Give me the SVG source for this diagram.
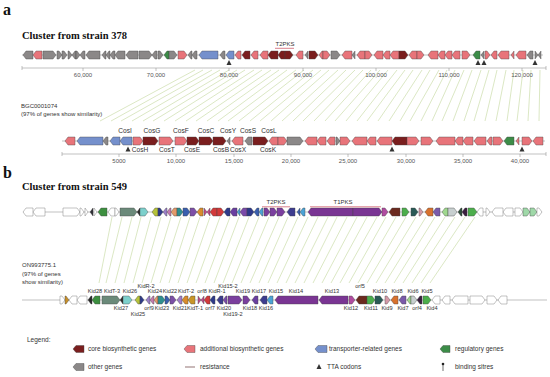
<svg xmlns="http://www.w3.org/2000/svg" width="550" height="377" viewBox="0 0 550 377">
<style>
text{font-family:"Liberation Sans",Arial,sans-serif;fill:#333}
.ttl{font-family:"Liberation Serif","Times New Roman",serif;font-weight:bold;fill:#111}
.pl{font-family:"Liberation Serif","Times New Roman",serif;font-weight:bold;font-size:16px;fill:#111}
.tk{font-size:6px;fill:#555;text-anchor:middle}
.gl{font-size:6.6px;text-anchor:middle}
.kl{font-size:5.6px;text-anchor:middle}
.sm{font-size:6px}
.lg{font-size:6.5px}
.genes path{stroke:#444;stroke-width:0.4}
.c{fill:#7a1e1e}.a{fill:#e8747a}.t{fill:#7590cc}.g{fill:#3c8c48}.o{fill:#8b8888}
.w{fill:#fff;stroke:#666!important}
.bb{stroke:#999;stroke-width:0.6;fill:none}
.rul{stroke:#999;stroke-width:0.6;fill:none}
.links line{stroke:#c3d69c;stroke-width:0.6}
.tta{fill:#333}
.pk{stroke:#d0606e;stroke-width:0.8}
</style>
<rect width="550" height="377" fill="#fff"/>

<!-- connectors -->
<g id="connectors" class="links">
<line x1="195" y1="70" x2="100" y2="121"/><line x1="203" y1="70" x2="111" y2="121"/><line x1="212" y1="70" x2="121" y2="121"/><line x1="220" y1="70" x2="132" y2="121"/><line x1="229" y1="70" x2="143" y2="121"/><line x1="237" y1="70" x2="153" y2="121"/><line x1="245" y1="70" x2="164" y2="121"/><line x1="254" y1="70" x2="175" y2="121"/><line x1="262" y1="70" x2="186" y2="121"/><line x1="271" y1="70" x2="196" y2="121"/><line x1="279" y1="70" x2="207" y2="121"/><line x1="287" y1="70" x2="218" y2="121"/><line x1="296" y1="70" x2="228" y2="121"/><line x1="304" y1="70" x2="239" y2="121"/><line x1="313" y1="70" x2="250" y2="121"/><line x1="321" y1="70" x2="260" y2="121"/><line x1="329" y1="70" x2="271" y2="121"/><line x1="338" y1="70" x2="282" y2="121"/><line x1="346" y1="70" x2="293" y2="121"/><line x1="355" y1="70" x2="303" y2="121"/><line x1="363" y1="70" x2="314" y2="121"/><line x1="371" y1="70" x2="325" y2="121"/><line x1="380" y1="70" x2="335" y2="121"/><line x1="388" y1="70" x2="346" y2="121"/><line x1="397" y1="70" x2="357" y2="121"/><line x1="405" y1="70" x2="367" y2="121"/><line x1="413" y1="70" x2="378" y2="121"/><line x1="422" y1="70" x2="389" y2="121"/><line x1="430" y1="70" x2="400" y2="121"/><line x1="439" y1="70" x2="410" y2="121"/><line x1="447" y1="70" x2="421" y2="121"/><line x1="455" y1="70" x2="432" y2="121"/><line x1="464" y1="70" x2="442" y2="121"/><line x1="472" y1="70" x2="453" y2="121"/><line x1="481" y1="70" x2="464" y2="121"/><line x1="489" y1="70" x2="474" y2="121"/><line x1="497" y1="70" x2="485" y2="121"/><line x1="506" y1="70" x2="496" y2="121"/><line x1="514" y1="70" x2="507" y2="121"/><line x1="523" y1="70" x2="517" y2="121"/><line x1="531" y1="70" x2="528" y2="121"/><line x1="540" y1="70" x2="539" y2="121"/>
<line x1="112" y1="217" x2="99" y2="283"/><line x1="122" y1="217" x2="106" y2="283"/><line x1="132" y1="217" x2="115" y2="283"/><line x1="141" y1="217" x2="124" y2="283"/><line x1="151" y1="217" x2="133" y2="283"/><line x1="161" y1="217" x2="142" y2="283"/><line x1="171" y1="217" x2="151" y2="283"/><line x1="181" y1="217" x2="160" y2="283"/><line x1="190" y1="217" x2="169" y2="283"/><line x1="200" y1="217" x2="178" y2="283"/><line x1="210" y1="217" x2="187" y2="283"/><line x1="220" y1="217" x2="196" y2="283"/><line x1="230" y1="217" x2="205" y2="283"/><line x1="239" y1="217" x2="214" y2="283"/><line x1="249" y1="217" x2="223" y2="283"/><line x1="259" y1="217" x2="232" y2="283"/><line x1="269" y1="217" x2="241" y2="283"/><line x1="279" y1="217" x2="250" y2="283"/><line x1="288" y1="217" x2="259" y2="283"/><line x1="298" y1="217" x2="268" y2="283"/><line x1="308" y1="217" x2="277" y2="283"/><line x1="318" y1="217" x2="286" y2="283"/><line x1="328" y1="217" x2="295" y2="283"/><line x1="337" y1="217" x2="304" y2="283"/><line x1="347" y1="217" x2="313" y2="283"/><line x1="357" y1="217" x2="322" y2="283"/><line x1="367" y1="217" x2="331" y2="283"/><line x1="377" y1="217" x2="340" y2="283"/><line x1="386" y1="217" x2="349" y2="283"/><line x1="396" y1="217" x2="358" y2="283"/><line x1="406" y1="217" x2="367" y2="283"/><line x1="416" y1="217" x2="376" y2="283"/><line x1="426" y1="217" x2="385" y2="283"/><line x1="435" y1="217" x2="394" y2="283"/><line x1="445" y1="217" x2="403" y2="283"/><line x1="455" y1="217" x2="412" y2="283"/><line x1="465" y1="217" x2="421" y2="283"/><line x1="475" y1="217" x2="430" y2="283"/>
</g>

<!-- panel a -->
<text class="pl" x="3" y="15">a</text>
<text class="ttl" x="22" y="39" font-size="10.5">Cluster from strain 378</text>

<g id="track-a-top">
<line class="bb" x1="22" y1="55" x2="543" y2="55"/>
<g class="genes">
<path class="o" d="M33,51h-7l-3,4l3,4h7z"/><path class="a" d="M42,51h-6l-3,4l3,4h6z"/><path class="o" d="M43,51h10l3,4l-3,4h-10z"/><path class="o" d="M57,51h2l3,4l-3,4h-2z"/><path class="o" d="M62,51h2l3,4l-3,4h-2z"/><path class="o" d="M68,51h1l3,4l-3,4h-1z"/><path class="o" d="M76,51h-1l-3,4l3,4h1z"/><path class="o" d="M76,51h1l3,4l-3,4h-1z"/><path class="o" d="M85,51h-2l-3,4l3,4h2z"/><path class="o" d="M100,51h-11l-3,4l3,4h11z"/><path class="o" d="M106,51h-1l-3,4l3,4h1z"/><path class="o" d="M110,51h-1l-3,4l3,4h1z"/><path class="o" d="M115,51h-2l-3,4l3,4h2z"/><path class="o" d="M125,51h-7l-3,4l3,4h7z"/><path class="o" d="M138,51h-9l-3,4l3,4h9z"/><path class="o" d="M139,51h10l3,4l-3,4h-10z"/><path class="o" d="M157,51h-2l-3,4l3,4h2z"/><path class="o" d="M158,51h2l3,4l-3,4h-2z"/><path class="g" d="M169,51h-2l-3,4l3,4h2z"/><path class="o" d="M169,51h5l3,4l-3,4h-5z"/><path class="a" d="M178,51h6l3,4l-3,4h-6z"/><path class="o" d="M192,51h-1l-3,4l3,4h1z"/><path class="o" d="M197,51h-2l-3,4l3,4h2z"/><path class="t" d="M218,51h-16l-3,4l3,4h16z"/><path class="o" d="M225,51h-2l-3,4l3,4h2z"/><path class="t" d="M234,51h-5l-3,4l3,4h5z"/><path class="a" d="M241,51h-3l-3,4l3,4h3z"/><path class="c" d="M250,51h-5l-3,4l3,4h5z"/><path class="a" d="M258,51h-4l-3,4l3,4h4z"/><path class="a" d="M268,51h-5l-3,4l3,4h5z"/><path class="c" d="M278,51h-7l-3,4l3,4h7z"/><path class="c" d="M285,51h-4l-3,4l3,4h4z"/><path class="c" d="M285,51h5l3,4l-3,4h-5z"/><path class="a" d="M303,51h-4l-3,4l3,4h4z"/><path class="o" d="M308,51l-3,4l3,4z"/><path class="c" d="M309,51h6l3,4l-3,4h-6z"/><path class="a" d="M323,51h-1l-3,4l3,4h1z"/><path class="a" d="M323,51h4l3,4l-3,4h-4z"/><path class="o" d="M331,51h6l3,4l-3,4h-6z"/><path class="a" d="M352,51h-7l-3,4l3,4h7z"/><path class="o" d="M355,51l-3,4l3,4z"/><path class="a" d="M365,51h-5l-3,4l3,4h5z"/><path class="a" d="M365,51h4l3,4l-3,4h-4z"/><path class="a" d="M383,51h-6l-3,4l3,4h6z"/><path class="a" d="M390,51h-4l-3,4l3,4h4z"/><path class="a" d="M399,51h-6l-3,4l3,4h6z"/><path class="c" d="M399,51h6l3,4l-3,4h-6z"/><path class="a" d="M417,51h-5l-3,4l3,4h5z"/><path class="a" d="M417,51h4l3,4l-3,4h-4z"/><path class="a" d="M438,51h-7l-3,4l3,4h7z"/><path class="a" d="M445,51h-4l-3,4l3,4h4z"/><path class="a" d="M452,51h-4l-3,4l3,4h4z"/><path class="a" d="M460,51h-5l-3,4l3,4h5z"/><path class="a" d="M462,51h5l3,4l-3,4h-5z"/><path class="g" d="M480,51h-4l-3,4l3,4h4z"/><path class="o" d="M484,51l-3,4l3,4z"/><path class="a" d="M485,51h2l3,4l-3,4h-2z"/><path class="a" d="M497,51h-3l-3,4l3,4h3z"/><path class="a" d="M509,51h-8l-3,4l3,4h8z"/><path class="a" d="M514,51l-3,4l3,4z"/><path class="a" d="M526,51h-7l-3,4l3,4h7z"/><path class="o" d="M533,51h-3l-3,4l3,4h3z"/><path class="o" d="M535,51l3,4l-3,4z"/><path class="o" d="M541,51l-3,4l3,4z"/>
</g>
<text x="285" y="45.5" font-size="6" text-anchor="middle">T2PKS</text>
<line class="pk" x1="275" y1="48.3" x2="294" y2="48.3"/>
<g class="tta"><path d="M229,60l2.5,5h-5z"/><path d="M478,60l2.5,5h-5z"/><path d="M484,60l2.5,5h-5z"/><path d="M535,60l2.5,5h-5z"/></g>
<g class="rul">
<line x1="22" y1="68" x2="546" y2="68"/>
<path d="M22,66v4M83,68v3M156,68v3M229,68v3M303,68v3M376,68v3M449,68v3M522,68v3M546,66v4"/>
</g>
<text class="tk" x="83" y="76.5">60,000</text><text class="tk" x="156" y="76.5">70,000</text><text class="tk" x="229" y="76.5">80,000</text><text class="tk" x="303" y="76.5">90,000</text><text class="tk" x="376" y="76.5">100,000</text><text class="tk" x="449" y="76.5">110,000</text><text class="tk" x="522" y="76.5">120,000</text>
</g>

<g id="ref-a-label">
<text class="sm" x="21" y="108">BGC0001074</text>
<text class="sm" x="21" y="116">(97% of genes show similarity)</text>
</g>

<g id="track-a-bottom">
<line class="bb" x1="62" y1="141" x2="545" y2="141"/>
<g class="genes">
<path class="a" d="M75,137h-7l-3,4l3,4h7z"/><path class="t" d="M103,137h-23l-3,4l3,4h23z"/><path class="o" d="M108,137h-2l-3,4l3,4h2z"/><path class="t" d="M120,137h-7l-3,4l3,4h7z"/><path class="t" d="M132,137h-9l-3,4l3,4h9z"/><path class="a" d="M133,137h7l3,4l-3,4h-7z"/><path class="c" d="M143,137h12l3,4l-3,4h-12z"/><path class="a" d="M159,137h11l3,4l-3,4h-11z"/><path class="a" d="M175,137h9l3,4l-3,4h-9z"/><path class="c" d="M187,137h9l3,4l-3,4h-9z"/><path class="c" d="M199,137h11l3,4l-3,4h-11z"/><path class="c" d="M213,137h10l3,4l-3,4h-10z"/><path class="o" d="M230,137h0l-3,4l3,4z"/><path class="a" d="M243,137h-8l-3,4l3,4h8z"/><path class="o" d="M252,137h-4l-3,4l3,4h4z"/><path class="c" d="M253,137h12l3,4l-3,4h-12z"/><path class="a" d="M278,137h-6l-3,4l3,4h6z"/><path class="a" d="M278,137h6l3,4l-3,4h-6z"/><path class="o" d="M287,137h13l3,4l-3,4h-13z"/><path class="a" d="M317,137h-9l-3,4l3,4h9z"/><path class="a" d="M326,137h-6l-3,4l3,4h6z"/><path class="a" d="M335,137h-5l-3,4l3,4h5z"/><path class="o" d="M336,137h1l3,4l-3,4h-1z"/><path class="a" d="M340,137h7l3,4l-3,4h-7z"/><path class="a" d="M367,137h-12l-3,4l3,4h12z"/><path class="a" d="M376,137h-6l-3,4l3,4h6z"/><path class="a" d="M392,137h-12l-3,4l3,4h12z"/><path class="c" d="M407,137h-12l-3,4l3,4h12z"/><path class="a" d="M407,137h9l3,4l-3,4h-9z"/><path class="a" d="M421,137h9l3,4l-3,4h-9z"/><path class="a" d="M455,137h-16l-3,4l3,4h16z"/><path class="a" d="M463,137h-5l-3,4l3,4h5z"/><path class="a" d="M473,137h-7l-3,4l3,4h7z"/><path class="a" d="M486,137h-9l-3,4l3,4h9z"/><path class="a" d="M492,137h-2l-3,4l3,4h2z"/><path class="a" d="M493,137h7l3,4l-3,4h-7z"/><path class="g" d="M514,137h-7l-3,4l3,4h7z"/><path class="a" d="M519,137l-3,4l3,4z"/><path class="a" d="M522,137h7l3,4l-3,4h-7z"/><path class="a" d="M543,137h-7l-3,4l3,4h7z"/>
</g>
<text class="gl" x="125" y="133">CosI</text><text class="gl" x="152" y="133">CosG</text><text class="gl" x="181" y="133">CosF</text><text class="gl" x="206" y="133">CosC</text><text class="gl" x="228" y="133">CosY</text><text class="gl" x="248" y="133">CosS</text><text class="gl" x="269" y="133">CosL</text>
<text class="gl" x="140" y="151.5">CosH</text><text class="gl" x="167" y="151.5">CosT</text><text class="gl" x="192" y="151.5">CosE</text><text class="gl" x="221" y="151.5">CosB</text><text class="gl" x="238" y="151.5">CosX</text><text class="gl" x="268" y="151.5">CosK</text>
<g class="tta"><path d="M128,146.5l2.5,5h-5z"/><path d="M392,146.5l2.5,5h-5z"/><path d="M522,146.5l2.5,5h-5z"/></g>
<g class="rul">
<line x1="62" y1="154" x2="546" y2="154"/>
<path d="M62,152v4M119,154v3M176,154v3M234,154v3M291,154v3M348,154v3M406,154v3M463,154v3M520,154v3M546,152v4"/>
</g>
<text class="tk" x="119" y="163">5000</text><text class="tk" x="176" y="163">10,000</text><text class="tk" x="234" y="163">15,000</text><text class="tk" x="291" y="163">20,000</text><text class="tk" x="348" y="163">25,000</text><text class="tk" x="406" y="163">30,000</text><text class="tk" x="463" y="163">35,000</text><text class="tk" x="520" y="163">40,000</text>
</g>

<!-- panel b -->
<text class="pl" x="3" y="178">b</text>
<text class="ttl" x="22" y="190" font-size="10.5">Cluster from strain 549</text>

<g id="track-b-top">
<line class="bb" x1="23" y1="212" x2="542" y2="212"/>
<g class="genes">
<path class="w" d="M33,208h-7l-3,4l3,4h7z"/><path class="w" d="M45,208h-9l-3,4l3,4h9z"/><path class="w" d="M63,208h14l3,4l-3,4h-14z"/><path class="w" d="M80,208h1l3,4l-3,4h-1z"/><path class="w" d="M85,208l3,4l-3,4z"/><path fill="#2d2d35" d="M93,208l-3,4l3,4z"/><path class="w" d="M94,208l3,4l-3,4z"/><path fill="#3d8f40" d="M107,208h-6l-3,4l3,4h6z"/><path class="w" d="M115,208h-4l-3,4l3,4h4z"/><path class="w" d="M115,208h1l3,4l-3,4h-1z"/><path fill="#6b8a7a" d="M120,208h14l3,4l-3,4h-14z"/><path fill="#2a2a2a" d="M140,208l-3,4l3,4z"/><path fill="#7dd0cc" d="M140,208h5l3,4l-3,4h-5z"/><path fill="#b5c23a" d="M158,208h-3l-3,4l3,4h3z"/><path fill="#2e3a8a" d="M158,208h2l3,4l-3,4h-2z"/><path fill="#9a7fc8" d="M167,208h-1l-3,4l3,4h1z"/><path fill="#c47ab0" d="M171,208h-1l-3,4l3,4h1z"/><path fill="#e39a6a" d="M177,208h-3l-3,4l3,4h3z"/><path fill="#2f8f8f" d="M177,208h3l3,4l-3,4h-3z"/><path fill="#3a5fae" d="M183,208h4l3,4l-3,4h-4z"/><path fill="#7c4fa6" d="M190,208h4l3,4l-3,4h-4z"/><path fill="#d98c2c" d="M203,208h-3l-3,4l3,4h3z"/><path fill="#c04a8a" d="M204,208l3,4l-3,4z"/><path fill="#c04a8a" d="M210,208l-3,4l3,4z"/><path fill="#d23a3a" d="M217,208h-4l-3,4l3,4h4z"/><path fill="#d23a3a" d="M217,208h4l3,4l-3,4h-4z"/><path fill="#2e3a8a" d="M230,208h-3l-3,4l3,4h3z"/><path fill="#6a3fa0" d="M237,208h-4l-3,4l3,4h4z"/><path fill="#4ba3d6" d="M240,208l-3,4l3,4z"/><path fill="#7a4aa8" d="M247,208h-4l-3,4l3,4h4z"/><path fill="#2e3a8a" d="M247,208h4l3,4l-3,4h-4z"/><path fill="#3a5fae" d="M259,208h-2l-3,4l3,4h2z"/><path fill="#4ba3d6" d="M263,208h-1l-3,4l3,4h1z"/><path fill="#7b3f9e" d="M264,208h3l3,4l-3,4h-3z"/><path fill="#7b3f9e" d="M270,208h4l3,4l-3,4h-4z"/><path fill="#7b3f9e" d="M277,208h5l3,4l-3,4h-5z"/><path fill="#3d3d8f" d="M295,208h-5l-3,4l3,4h5z"/><path fill="#3a5fae" d="M300,208l-3,4l3,4z"/><path fill="#4ba3d6" d="M305,208h-2l-3,4l3,4h2z"/><path fill="#7a3593" d="M353,208h-42l-3,4l3,4h42z"/><path fill="#7a3593" d="M353,208h26l3,4l-3,4h-26z"/><path fill="#b04ca0" d="M382,208h3l3,4l-3,4h-3z"/><path fill="#6b2a1e" d="M400,208h-8l-3,4l3,4h8z"/><path fill="#4cae4c" d="M402,208h4l3,4l-3,4h-4z"/><path fill="#2a5a56" d="M411,208h4l3,4l-3,4h-4z"/><path fill="#d49aa8" d="M419,208h1l3,4l-3,4h-1z"/><path fill="#d8722e" d="M433,208h-5l-3,4l3,4h5z"/><path fill="#7a5aaa" d="M440,208h-4l-3,4l3,4h4z"/><path fill="#9fd88e" d="M448,208h-3l-3,4l3,4h3z"/><path fill="#c7cfcf" d="M448,208h6l3,4l-3,4h-6z"/><path fill="#2e4d3a" d="M462,208h-1l-3,4l3,4h1z"/><path fill="#3a1f3f" d="M467,208h-2l-3,4l3,4h2z"/><path fill="#4cae4c" d="M468,208h6l3,4l-3,4h-6z"/><path class="w" d="M483,208h-3l-3,4l3,4h3z"/><path class="w" d="M486,208h1l3,4l-3,4h-1z"/><path class="w" d="M503,208h-8l-3,4l3,4h8z"/><path class="w" d="M513,208h-7l-3,4l3,4h7z"/><path class="w" d="M515,208h5l3,4l-3,4h-5z"/><path fill="#9fd8a8" d="M523,208h4l3,4l-3,4h-4z"/><path fill="#9fd8a8" d="M530,208h4l3,4l-3,4h-4z"/><path class="w" d="M537,208h2l3,4l-3,4h-2z"/>
</g>
<text x="276" y="204" font-size="6" text-anchor="middle">T2PKS</text>
<line class="pk" x1="262" y1="206.8" x2="290" y2="206.8"/>
<text x="343" y="204" font-size="6" text-anchor="middle">T1PKS</text>
<line class="pk" x1="310" y1="206.8" x2="381" y2="206.8"/>
</g>

<g id="ref-b-label">
<text class="sm" x="22" y="267">ON993775.1</text>
<text class="sm" x="22" y="275.5">(97% of genes</text>
<text class="sm" x="22" y="284">show similarity)</text>
</g>

<g id="track-b-bottom">
<line class="bb" x1="22" y1="300" x2="547" y2="300"/>
<g class="genes">
<path class="w" d="M60,296h2l3,4l-3,4h-2z"/><path fill="#c8902a" d="M65,296h1l3,4l-3,4h-1z"/><path class="w" d="M77,296h-5l-3,4l3,4h5z"/><path class="w" d="M87,296h-7l-3,4l3,4h7z"/><path fill="#2a2a2a" d="M92,296h-1l-3,4l3,4h1z"/><path fill="#3d8f40" d="M100,296h-5l-3,4l3,4h5z"/><path fill="#6b8a7a" d="M102,296h15l3,4l-3,4h-15z"/><path fill="#2a2a2a" d="M123,296l-3,4l3,4z"/><path fill="#7dd0cc" d="M123,296h6l3,4l-3,4h-6z"/><path fill="#b5c23a" d="M140,296h-2l-3,4l3,4h2z"/><path fill="#2e3a8a" d="M140,296h1l3,4l-3,4h-1z"/><path fill="#9a7fc8" d="M150,296h-1l-3,4l3,4h1z"/><path fill="#c47ab0" d="M154,296h-1l-3,4l3,4h1z"/><path fill="#e39a6a" d="M158,296h-1l-3,4l3,4h1z"/><path fill="#2f8f8f" d="M158,296h4l3,4l-3,4h-4z"/><path fill="#3a5fae" d="M165,296h2l3,4l-3,4h-2z"/><path fill="#7c4fa6" d="M170,296h3l3,4l-3,4h-3z"/><path fill="#a07cc8" d="M182,296h-2l-3,4l3,4h2z"/><path fill="#d98c2c" d="M188,296h-3l-3,4l3,4h3z"/><path fill="#c9962a" d="M195,296h-4l-3,4l3,4h4z"/><path fill="#c04a8a" d="M198,296l3,4l-3,4z"/><path fill="#c04a8a" d="M204,296l-3,4l3,4z"/><path fill="#d23a3a" d="M210,296h-3l-3,4l3,4h3z"/><path fill="#2e3a8a" d="M215,296h-2l-3,4l3,4h2z"/><path fill="#3d3d8f" d="M223,296h-3l-3,4l3,4h3z"/><path fill="#7a4aa8" d="M227,296h-1l-3,4l3,4h1z"/><path fill="#7b3f9e" d="M228,296h11l3,4l-3,4h-11z"/><path fill="#7b3f9e" d="M243,296h4l3,4l-3,4h-4z"/><path fill="#6a3fa0" d="M258,296h-3l-3,4l3,4h3z"/><path fill="#3d3d8f" d="M267,296h-4l-3,4l3,4h4z"/><path fill="#4ba3d6" d="M273,296h-3l-3,4l3,4h3z"/><path fill="#7a3593" d="M318,296h-40l-3,4l3,4h40z"/><path fill="#7a3593" d="M348,296h-26l-3,4l3,4h26z"/><path fill="#b04ca0" d="M349,296h3l3,4l-3,4h-3z"/><path fill="#6b2a1e" d="M367,296h-8l-3,4l3,4h8z"/><path fill="#4cae4c" d="M367,296h5l3,4l-3,4h-5z"/><path fill="#2a5a56" d="M375,296h5l3,4l-3,4h-5z"/><path fill="#d49aa8" d="M385,296h2l3,4l-3,4h-2z"/><path fill="#d8722e" d="M398,296h-4l-3,4l3,4h4z"/><path fill="#7a5aaa" d="M406,296h-4l-3,4l3,4h4z"/><path fill="#9fd88e" d="M411,296h-1l-3,4l3,4h1z"/><path fill="#c7cfcf" d="M411,296h3l3,4l-3,4h-3z"/><path fill="#3a1f3f" d="M422,296h-2l-3,4l3,4h2z"/><path fill="#4cae4c" d="M423,296h5l3,4l-3,4h-5z"/><path class="w" d="M440,296h-5l-3,4l3,4h5z"/><path class="w" d="M450,296h-5l-3,4l3,4h5z"/><path class="w" d="M468,296h-13l-3,4l3,4h13z"/><path class="w" d="M470,296h12l3,4l-3,4h-12z"/><path class="w" d="M487,296h7l3,4l-3,4h-7z"/><path class="w" d="M507,296h-6l-3,4l3,4h6z"/>
</g>
<text class="kl" x="95" y="293">Kid28</text><text class="kl" x="112" y="293">KidT-3</text><text class="kl" x="130" y="293">Kid26</text><text class="kl" x="155" y="293">Kid24</text><text class="kl" x="170" y="293">Kid22</text><text class="kl" x="186" y="293">KidT-2</text><text class="kl" x="202" y="293">orf8</text><text class="kl" x="217" y="293">KidR-1</text><text class="kl" x="243" y="293">Kid19</text><text class="kl" x="259" y="293">Kid17</text><text class="kl" x="276" y="293">Kid15</text><text class="kl" x="296" y="293">Kid14</text><text class="kl" x="332" y="293">Kid13</text><text class="kl" x="380" y="293">Kid10</text><text class="kl" x="397" y="293">Kid8</text><text class="kl" x="413" y="293">Kid6</text><text class="kl" x="427" y="293">Kid5</text>
<text class="kl" x="146" y="288">KidR-2</text><text class="kl" x="228" y="288">Kid15-2</text><text class="kl" x="360" y="288">orf5</text>
<text class="kl" x="121" y="310">Kid27</text><text class="kl" x="149" y="310">orf9</text><text class="kl" x="162" y="310">Kid23</text><text class="kl" x="180" y="310">Kid21</text><text class="kl" x="195" y="310">KidT-1</text><text class="kl" x="210" y="310">orf7</text><text class="kl" x="224" y="310">Kid20</text><text class="kl" x="250" y="310">Kid18</text><text class="kl" x="266" y="310">Kid16</text><text class="kl" x="351" y="310">Kid12</text><text class="kl" x="371" y="310">Kid11</text><text class="kl" x="387" y="310">Kid9</text><text class="kl" x="403" y="310">Kid7</text><text class="kl" x="417" y="310">orf4</text><text class="kl" x="432" y="310">Kid4</text>
<text class="kl" x="138" y="316">Kid25</text><text class="kl" x="233" y="316">Kid19-2</text>
</g>

<!-- legend -->
<g id="legend">
<text class="lg" x="27" y="342">Legend:</text>
<g class="genes">
<path class="c" d="M84,345.5h-8l-3,3.5l3,3.5h8z"/>
<path class="a" d="M195,345.5h-8l-3,3.5l3,3.5h8z"/>
<path class="t" d="M327,345.5h-9l-3,3.5l3,3.5h9z"/>
<path class="g" d="M450,345.5h-7l-3,3.5l3,3.5h7z"/>
<path class="o" d="M84,363.5h-8l-3,3.5l3,3.5h8z"/>
</g>
<line x1="185" y1="367" x2="195" y2="367" stroke="#c9b9b9" stroke-width="2"/>
<path class="tta" d="M319,364l2.5,5h-5z"/>
<line x1="443" y1="364" x2="443" y2="371" stroke="#333" stroke-width="0.7"/>
<circle cx="443" cy="364" r="1.3" fill="#222"/>
<text class="lg" x="88" y="351.3">core biosynthetic genes</text>
<text class="lg" x="200" y="351.3">additional biosynthetic genes</text>
<text class="lg" x="329" y="351.3">transporter-related genes</text>
<text class="lg" x="455" y="351.3">regulatory genes</text>
<text class="lg" x="88" y="369.3">other genes</text>
<text class="lg" x="200" y="369.3">resistance</text>
<text class="lg" x="327" y="369.3">TTA codons</text>
<text class="lg" x="455" y="369.3">binding sitres</text>
</g>
</svg>
